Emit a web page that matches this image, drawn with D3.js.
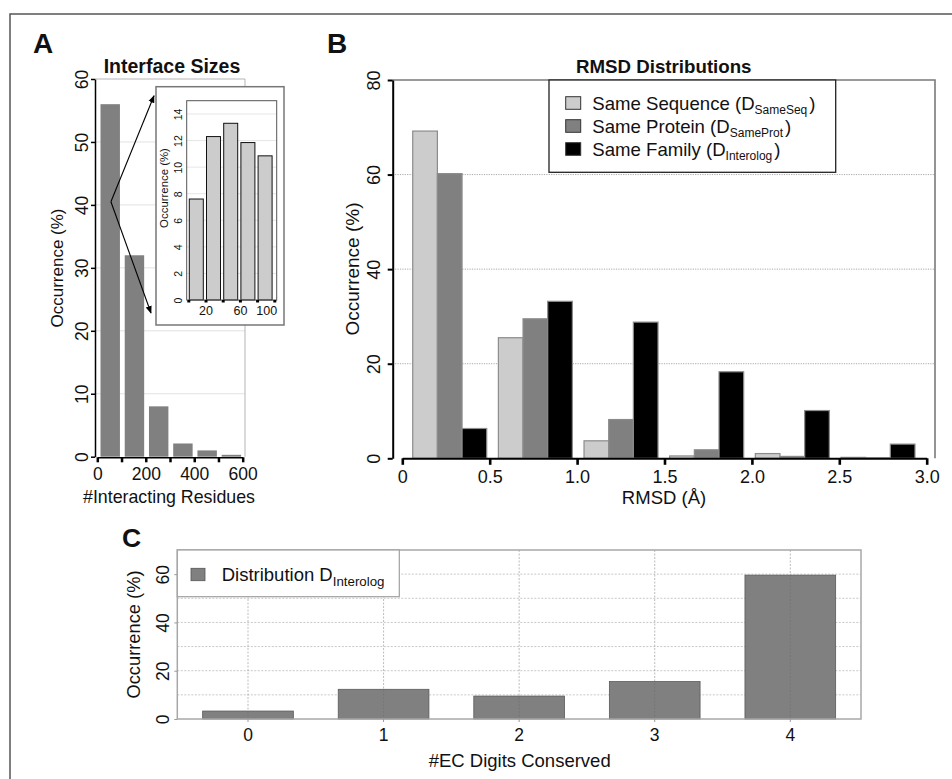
<!DOCTYPE html>
<html>
<head>
<meta charset="utf-8">
<script src="https://cdn.jsdelivr.net/npm/d3@7"></script>
<style>
  body { margin: 0; background: #fff; }
  svg { font-family: "Liberation Sans", Arial, Helvetica, sans-serif; }
</style>
</head>
<body>
<svg id="fig" width="952" height="779"></svg>
<script>
// ---- Panel A: interface sizes (bins of 100 interacting residues) ----
const sizeBins = [[0, 100], [100, 200], [200, 300], [300, 400], [400, 500], [500, 600]];
const sizeOccurrence = [56, 32, 8, 2.1, 1.0, 0.3];
const sizeTicks = [0, 100, 200, 300, 400, 500, 600];
const sizeTickLabels = [0, 200, 400, 600];
const sizeYTicks = [0, 10, 20, 30, 40, 50, 60];

// Inset: first 100 residues in bins of 20
const smallBins = [[0, 20], [20, 40], [40, 60], [60, 80], [80, 100]];
const smallOccurrence = [7.6, 12.3, 13.3, 11.85, 10.85];
const smallTicks = [0, 20, 40, 60, 80, 100];
const smallTickLabels = [20, 60, 100];
const smallYTicks = [0, 2, 4, 6, 8, 10, 12, 14];

// ---- Panel B: RMSD distributions ----
const rmsdBins = ["0-0.5", "0.5-1.0", "1.0-1.5", "1.5-2.0", "2.0-2.5", "2.5-3.0"];
const sameSeq   = [69.2, 25.5, 3.7, 0.5, 1.0, 0.2];
const sameProt  = [60.2, 29.5, 8.2, 1.8, 0.4, 0.1];
const interolog = [6.3, 33.2, 28.8, 18.3, 10.1, 3.0];
const rmsdTicks = [0, 0.5, 1.0, 1.5, 2.0, 2.5, 3.0];
const rmsdYTicks = [0, 20, 40, 60, 80];
const rmsdSeries = [
  { key: "seq",  values: sameSeq,   fill: "#cccccc", name: "Same Sequence (D", sub: "SameSeq" },
  { key: "prot", values: sameProt,  fill: "#808080", name: "Same Protein (D",  sub: "SameProt" },
  { key: "fam",  values: interolog, fill: "#000000", name: "Same Family (D",   sub: "Interolog" }
];

// ---- Panel C: EC digits conserved ----
const ecDigits = ["0", "1", "2", "3", "4"];
const ecOccurrence = [3.3, 12.3, 9.5, 15.5, 59.6];
const ecYTicks = [0, 20, 40, 60];
const ecGrid = [10, 20, 30, 40, 50, 60];

const svg = d3.select("#fig");
const TICK_FONT = 17.5;

// rotate y tick labels so they run parallel to the axis
function rotateYLabels(g, offset, size) {
  g.selectAll(".tick text")
    .attr("transform", "rotate(-90)")
    .attr("x", 0).attr("y", -offset).attr("dy", 0)
    .attr("text-anchor", "middle")
    .attr("font-size", size).attr("fill", "#111");
}
function styleAxis(g, color, width, tickWidth) {
  g.attr("font-family", null);
  g.select(".domain").attr("stroke", color).attr("stroke-width", width);
  g.selectAll(".tick line").attr("stroke", color).attr("stroke-width", tickWidth);
}
function rotatedLabel(x, y, text, size) {
  svg.append("text").attr("transform", `translate(${x},${y}) rotate(-90)`)
    .attr("text-anchor", "middle").attr("font-size", size).attr("fill", "#111").text(text);
}

// outer frame
svg.append("path").attr("d", "M10,779V14H952").attr("fill", "none")
  .attr("stroke", "#555").attr("stroke-width", 1.5);

// panel letters
[["A", 33, 53, 28], ["B", 327, 53, 28], ["C", 122, 547, 26.5]].forEach(([t, x, y, s]) =>
  svg.append("text").attr("x", x).attr("y", y).attr("font-size", s)
    .attr("font-weight", "bold").attr("fill", "#111").text(t));

// ================= Panel A =================
const ax = d3.scaleLinear().domain([0, 600]).range([97.3, 242.7]);
const ay = d3.scaleLinear().domain([0, 60]).range([456.7, 79]);
const gA = svg.append("g");

gA.selectAll("line.grid").data(sizeYTicks.slice(1, -1)).join("line")
  .attr("x1", 95).attr("x2", 245).attr("y1", d => ay(d)).attr("y2", d => ay(d))
  .attr("stroke", "#e2e2e2").attr("stroke-width", 1);
gA.append("path").attr("d", `M95,${ay(60)}H245V${ay(0)}`)
  .attr("fill", "none").attr("stroke", "#b5b5b5").attr("stroke-width", 1);

const sizeData = sizeBins.map((b, i) => ({ lo: b[0], hi: b[1], v: sizeOccurrence[i] }));
gA.selectAll("rect.bar").data(sizeData).join("rect")
  .attr("x", d => ax(d.lo) + 3.2)
  .attr("width", d => ax(d.hi) - ax(d.lo) - 4.8)
  .attr("y", d => ay(d.v)).attr("height", d => ay(0) - ay(d.v))
  .attr("fill", "#808080");

const aYAxis = gA.append("g").attr("transform", "translate(95,0)")
  .call(d3.axisLeft(ay).tickValues(sizeYTicks).tickSize(4).tickSizeOuter(0));
styleAxis(aYAxis, "#000", 1.5, 1.5);
rotateYLabels(aYAxis, 7, TICK_FONT);

const aXAxis = gA.append("g").attr("transform", "translate(0,457.3)")
  .call(d3.axisBottom(ax).tickValues(sizeTicks).tickSize(5).tickSizeOuter(0)
    .tickFormat(d => sizeTickLabels.includes(d) ? d : ""));
styleAxis(aXAxis, "#000", 1.5, 2.5);
aXAxis.selectAll(".tick text").attr("y", 22.7).attr("dy", 0)
  .attr("font-size", TICK_FONT).attr("fill", "#111");

svg.append("text").attr("x", 172).attr("y", 73).attr("text-anchor", "middle")
  .attr("font-size", 19.5).attr("font-weight", "bold").attr("fill", "#111").text("Interface Sizes");
rotatedLabel(63, 268, "Occurrence (%)", 17);
svg.append("text").attr("x", 169).attr("y", 503.3).attr("text-anchor", "middle")
  .attr("font-size", 17.8).attr("fill", "#111").text("#Interacting Residues");

// ---- inset ----
const ix = d3.scaleLinear().domain([0, 100]).range([188.3, 274.3]);
const iy = d3.scaleLinear().domain([0, 15]).range([300, 100.7]);
const gI = svg.append("g");
const inset = { x: 156, y: 86.7, w: 128, h: 238.3 };
gI.append("rect").attr("x", inset.x).attr("y", inset.y).attr("width", inset.w).attr("height", inset.h)
  .attr("fill", "#fff").attr("stroke", "#777").attr("stroke-width", 1.5);
gI.selectAll("line.grid").data(smallYTicks.slice(1)).join("line")
  .attr("x1", 186.7).attr("x2", 276.7).attr("y1", d => iy(d)).attr("y2", d => iy(d))
  .attr("stroke", "#e6e6e6");
const smallData = smallBins.map((b, i) => ({ lo: b[0], hi: b[1], v: smallOccurrence[i] }));
gI.selectAll("rect.bar").data(smallData).join("rect")
  .attr("x", d => ix(d.lo) + 1)
  .attr("width", d => ix(d.hi) - ix(d.lo) - 3.2)
  .attr("y", d => iy(d.v)).attr("height", d => iy(0) - iy(d.v))
  .attr("fill", "#cccccc").attr("stroke", "#111").attr("stroke-width", 1);
gI.append("rect").attr("x", 186.7).attr("y", iy(15)).attr("width", 90).attr("height", iy(0) - iy(15))
  .attr("fill", "none").attr("stroke", "#555").attr("stroke-width", 1);

const iYAxis = gI.append("g").attr("transform", "translate(186.7,0)")
  .call(d3.axisLeft(iy).tickValues(smallYTicks).tickSize(0));
styleAxis(iYAxis, "none", 0, 0);
rotateYLabels(iYAxis, 5.2, 10.5);

const iXAxis = gI.append("g").attr("transform", "translate(0,300)")
  .call(d3.axisBottom(ix).tickValues(smallTicks).tickSize(2.5).tickSizeOuter(0)
    .tickFormat(d => smallTickLabels.includes(d) ? d : ""));
styleAxis(iXAxis, "none", 0, 3);
iXAxis.selectAll(".tick line").attr("stroke", "#000");
iXAxis.selectAll(".tick text").attr("y", 15).attr("dy", 0)
  .attr("font-size", 12.5).attr("fill", "#111")
  .filter(d => d === 100).attr("text-anchor", "end").attr("x", 2.4);
rotatedLabel(168, 188, "Occurrence (%)", 11.4);

// arrows from the first bar to the inset
const defs = svg.append("defs");
defs.append("marker").attr("id", "arrow").attr("viewBox", "0 0 10 10")
  .attr("refX", 9).attr("refY", 5).attr("markerWidth", 7).attr("markerHeight", 7)
  .attr("orient", "auto-start-reverse")
  .append("path").attr("d", "M0,1L10,5L0,9z").attr("fill", "#000");
const arrowStart = [(ax(sizeBins[0][0]) + ax(sizeBins[0][1])) / 2 + 1.5, ay(40.5)];
[[inset.x - 2, inset.y + 9], [inset.x - 5, inset.y + inset.h - 12]].forEach(end =>
  svg.append("line").attr("x1", arrowStart[0]).attr("y1", arrowStart[1])
    .attr("x2", end[0]).attr("y2", end[1])
    .attr("stroke", "#000").attr("stroke-width", 1.1).attr("marker-end", "url(#arrow)"));

// ================= Panel B =================
const bx = d3.scaleLinear().domain([0, 3]).range([402.3, 926.7]);
const by = d3.scaleLinear().domain([0, 80]).range([458.3, 80]);
const bGroup = d3.scaleBand().domain(rmsdBins).range([406.9, 920.8])
  .paddingInner(0.136).paddingOuter(0.068);
const bSeries = d3.scaleBand().domain(rmsdSeries.map(s => s.key)).range([0, bGroup.bandwidth()]);
const gB = svg.append("g");

gB.selectAll("line.grid").data([20, 40, 60]).join("line")
  .attr("x1", 392.7).attr("x2", 935).attr("y1", d => by(d)).attr("y2", d => by(d))
  .attr("stroke", "#a8a8a8").attr("stroke-width", 1).attr("stroke-dasharray", "1.2,1.2");
gB.append("path").attr("d", `M392.7,${by(80)}H935V${by(0)}`)
  .attr("fill", "none").attr("stroke", "#7a7a7a").attr("stroke-width", 1.6);

const bBars = rmsdSeries.flatMap(s => s.values.map((v, i) => ({ bin: rmsdBins[i], key: s.key, v, fill: s.fill })));
gB.selectAll("rect.bar").data(bBars).join("rect")
  .attr("x", d => bGroup(d.bin) + bSeries(d.key))
  .attr("width", bSeries.bandwidth())
  .attr("y", d => by(d.v)).attr("height", d => by(0) - by(d.v))
  .attr("fill", d => d.fill).attr("stroke", "#8c8c8c").attr("stroke-width", 1.2);

const bYAxis = gB.append("g").attr("transform", "translate(392.7,0)")
  .call(d3.axisLeft(by).tickValues(rmsdYTicks).tickSize(5).tickSizeOuter(0));
styleAxis(bYAxis, "#000", 2, 2);
rotateYLabels(bYAxis, 13, 18);

const bXAxis = gB.append("g").attr("transform", "translate(0,458.3)")
  .call(d3.axisBottom(bx).tickValues(rmsdTicks).tickSize(6.5).tickSizeOuter(0)
    .tickFormat(d => d === 0 ? "0" : d3.format(".1f")(d)));
styleAxis(bXAxis, "#000", 2, 2.6);
bXAxis.selectAll(".tick text").attr("y", 24.4).attr("dy", 0)
  .attr("font-size", 18).attr("fill", "#111");

svg.append("text").attr("x", 663.8).attr("y", 73).attr("text-anchor", "middle")
  .attr("font-size", 18.7).attr("font-weight", "bold").attr("fill", "#111").text("RMSD Distributions");
rotatedLabel(359, 269, "Occurrence (%)", 19);
svg.append("text").attr("x", 664).attr("y", 504).attr("text-anchor", "middle")
  .attr("font-size", 18.5).attr("fill", "#111").text("RMSD (Å)");

// legend
const legB = gB.append("g");
legB.append("rect").attr("x", 549).attr("y", 80).attr("width", 286.7).attr("height", 92.3)
  .attr("fill", "#fff").attr("stroke", "#222").attr("stroke-width", 1.3);
const legRows = legB.selectAll("g.row").data(rmsdSeries).join("g")
  .attr("transform", (d, i) => `translate(565.7,${110 + i * 23})`);
legRows.append("rect").attr("x", 0).attr("y", -13.3).attr("width", 15).attr("height", 12.6)
  .attr("fill", d => d.fill).attr("stroke", "#333").attr("stroke-width", 1);
const legText = legRows.append("text").attr("x", 26.6).attr("y", 0)
  .attr("font-size", 18.6).attr("fill", "#111");
legText.append("tspan").text(d => d.name);
legText.append("tspan").attr("dy", 4).attr("font-size", 12).text(d => d.sub);
legText.append("tspan").attr("dy", -4).attr("dx", 2).text(")");

// ================= Panel C =================
const cxs = d3.scaleBand().domain(ecDigits).range([177.3, 861]).paddingInner(0.331).paddingOuter(0.187);
const cys = d3.scaleLinear().domain([0, 70]).range([719, 550]);
const gC = svg.append("g");

gC.selectAll("line.hgrid").data(ecGrid).join("line")
  .attr("x1", 177.3).attr("x2", 861).attr("y1", d => cys(d)).attr("y2", d => cys(d))
  .attr("stroke", "#c8c8c8").attr("stroke-width", 1).attr("stroke-dasharray", "2,1.5");
gC.selectAll("rect.bar").data(ecDigits.map((k, i) => ({ k, v: ecOccurrence[i] }))).join("rect")
  .attr("x", d => cxs(d.k)).attr("width", cxs.bandwidth())
  .attr("y", d => cys(d.v)).attr("height", d => cys(0) - cys(d.v))
  .attr("fill", "#808080").attr("stroke", "#5a5a5a").attr("stroke-width", 0.8);
gC.selectAll("line.vgrid").data(ecDigits).join("line")
  .attr("x1", d => cxs(d) + cxs.bandwidth() / 2).attr("x2", d => cxs(d) + cxs.bandwidth() / 2)
  .attr("y1", cys(70)).attr("y2", cys(0))
  .attr("stroke", "#6a6a6a").attr("stroke-opacity", 0.45).attr("stroke-width", 1)
  .attr("stroke-dasharray", "2,1.5");
gC.append("rect").attr("x", 177.3).attr("y", cys(70)).attr("width", 683.7).attr("height", cys(0) - cys(70))
  .attr("fill", "none").attr("stroke", "#a8a8a8").attr("stroke-width", 1.5);

const cYAxis = gC.append("g").attr("transform", "translate(177.3,0)")
  .call(d3.axisLeft(cys).tickValues(ecYTicks).tickSize(3).tickSizeOuter(0));
styleAxis(cYAxis, "none", 0, 1);
cYAxis.selectAll(".tick line").attr("stroke", "#999");
rotateYLabels(cYAxis, 8.3, TICK_FONT);

const cXAxis = gC.append("g").attr("transform", "translate(0,719)")
  .call(d3.axisBottom(cxs).tickSize(3).tickSizeOuter(0));
styleAxis(cXAxis, "none", 0, 1);
cXAxis.selectAll(".tick line").attr("stroke", "#999");
cXAxis.selectAll(".tick text").attr("y", 21.7).attr("dy", 0)
  .attr("font-size", TICK_FONT).attr("fill", "#111");

rotatedLabel(140, 634.5, "Occurrence (%)", 18.3);
svg.append("text").attr("x", 519.7).attr("y", 766.7).attr("text-anchor", "middle")
  .attr("font-size", 18.5).attr("fill", "#111").text("#EC Digits Conserved");

// legend
const legC = gC.append("g");
legC.append("rect").attr("x", 177.3).attr("y", 550).attr("width", 222).attr("height", 46.7)
  .attr("fill", "#fff").attr("stroke", "#a0a0a0").attr("stroke-width", 1.2);
legC.append("rect").attr("x", 191).attr("y", 568.3).attr("width", 14).attr("height", 12.4)
  .attr("fill", "#808080").attr("stroke", "#555").attr("stroke-width", 0.8);
const legCText = legC.append("text").attr("x", 221.7).attr("y", 580.7)
  .attr("font-size", 18.5).attr("fill", "#111");
legCText.append("tspan").text("Distribution D");
legCText.append("tspan").attr("dy", 5.5).attr("font-size", 13.3).text("Interolog");
</script>
</body>
</html>
